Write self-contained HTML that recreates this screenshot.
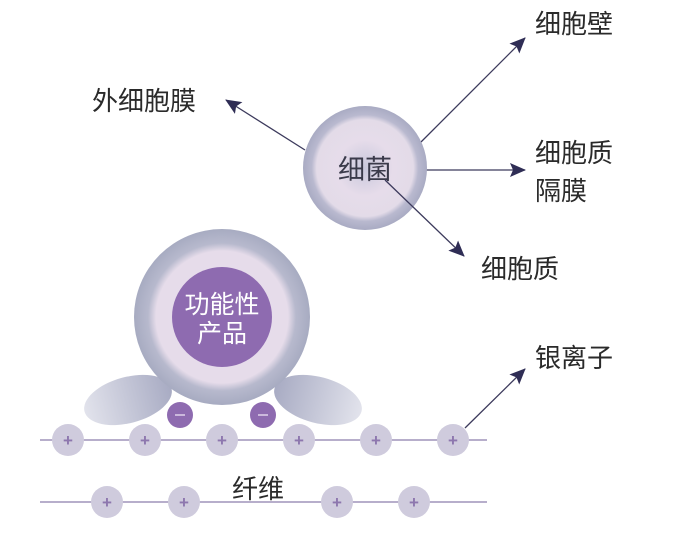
<!DOCTYPE html>
<html><head><meta charset="utf-8"><style>
html,body{margin:0;padding:0;background:#fff;}
body{width:696px;height:552px;overflow:hidden;position:relative;}
</style></head><body>
<svg width="696" height="552" viewBox="0 0 696 552" xmlns="http://www.w3.org/2000/svg" style="position:absolute;left:0;top:0">
<defs>
<radialGradient id="bac" cx="50%" cy="50%" r="50%">
<stop offset="0" stop-color="#c9c8dc"/><stop offset="0.45" stop-color="#e6dcea"/><stop offset="0.78" stop-color="#e3dbe8"/><stop offset="0.86" stop-color="#b9b9cf"/><stop offset="1" stop-color="#a9abc3"/>
</radialGradient>
<radialGradient id="big" cx="50%" cy="50%" r="50%">
<stop offset="0" stop-color="#e8dced"/><stop offset="0.75" stop-color="#e6dcea"/><stop offset="0.84" stop-color="#b7b9cd"/><stop offset="1" stop-color="#a7abc1"/>
</radialGradient>
<linearGradient id="leafL" x1="0" y1="0" x2="1" y2="0"><stop offset="0" stop-color="#e2e3ec"/><stop offset="1" stop-color="#a8abc3"/></linearGradient>
<linearGradient id="leafR" x1="0" y1="0" x2="1" y2="0"><stop offset="0" stop-color="#a8abc3"/><stop offset="1" stop-color="#e2e3ec"/></linearGradient>
<marker id="ah" markerWidth="16" markerHeight="16" refX="15" refY="8" orient="auto" markerUnits="userSpaceOnUse" viewBox="0 0 16 16"><path d="M0,1 L16,8 L0,15 L3,8 z" fill="#2f2d55"/></marker>
</defs>
<g stroke="#3c3a5c" stroke-width="1.3" fill="none">
<line x1="305" y1="150" x2="226" y2="100" marker-end="url(#ah)"/>
<line x1="420" y1="143" x2="525" y2="38" marker-end="url(#ah)"/>
<line x1="418" y1="170" x2="525" y2="170" marker-end="url(#ah)"/>
<line x1="465" y1="428" x2="525" y2="369" marker-end="url(#ah)"/>
</g>
<circle cx="365" cy="168" r="62" fill="url(#bac)"/>
<text x="365" y="179" text-anchor="middle" font-family="Liberation Sans, Noto Sans CJK SC, sans-serif" font-size="27" fill="#3a3a4a">细菌</text>
<line x1="385" y1="180" x2="464" y2="256" stroke="#3c3a5c" stroke-width="1.3" marker-end="url(#ah)"/>
<ellipse cx="128" cy="400" rx="45" ry="23" transform="rotate(-15 128 400)" fill="url(#leafL)"/>
<ellipse cx="318" cy="400" rx="45" ry="23" transform="rotate(15 318 400)" fill="url(#leafR)"/>
<circle cx="222" cy="317" r="88" fill="url(#big)"/>
<circle cx="222" cy="317" r="50" fill="#8e6bb0"/>
<text x="222" y="313" text-anchor="middle" font-family="Liberation Sans, Noto Sans CJK SC, sans-serif" font-size="25" fill="#fff">功能性</text>
<text x="222" y="342" text-anchor="middle" font-family="Liberation Sans, Noto Sans CJK SC, sans-serif" font-size="25" fill="#fff">产品</text>
<circle cx="180" cy="415" r="13" fill="#8e6bb0"/><rect x="175" y="414" width="10" height="2" fill="#cbb8dc"/>
<circle cx="263" cy="415" r="13" fill="#8e6bb0"/><rect x="258" y="414" width="10" height="2" fill="#cbb8dc"/>
<line x1="40" y1="440" x2="487" y2="440" stroke="#9f93ba" stroke-width="1.5"/>
<line x1="40" y1="502" x2="487" y2="502" stroke="#9f93ba" stroke-width="1.5"/>
<g fill="#cfcbdd">
<circle cx="68" cy="440" r="16"/><circle cx="145" cy="440" r="16"/><circle cx="222" cy="440" r="16"/><circle cx="299" cy="440" r="16"/><circle cx="376" cy="440" r="16"/><circle cx="453" cy="440" r="16"/>
<circle cx="107" cy="502" r="16"/><circle cx="184" cy="502" r="16"/><circle cx="337" cy="502" r="16"/><circle cx="414" cy="502" r="16"/>
</g>
<g font-family="Liberation Sans, sans-serif" font-size="17" font-weight="bold" fill="#8d77ae" text-anchor="middle">
<text x="68" y="446">+</text><text x="145" y="446">+</text><text x="222" y="446">+</text><text x="299" y="446">+</text><text x="376" y="446">+</text><text x="453" y="446">+</text>
<text x="107" y="508">+</text><text x="184" y="508">+</text><text x="337" y="508">+</text><text x="414" y="508">+</text>
</g>
<g font-family="Liberation Sans, Noto Sans CJK SC, sans-serif" font-size="26" fill="#2a2a2a">
<text x="258" y="498" text-anchor="middle">纤维</text>
<text x="535" y="33">细胞壁</text>
<text x="92" y="110">外细胞膜</text>
<text x="535" y="162">细胞质</text>
<text x="535" y="200">隔膜</text>
<text x="481" y="278">细胞质</text>
<text x="535" y="367">银离子</text>
</g>
</svg>
</body></html>
